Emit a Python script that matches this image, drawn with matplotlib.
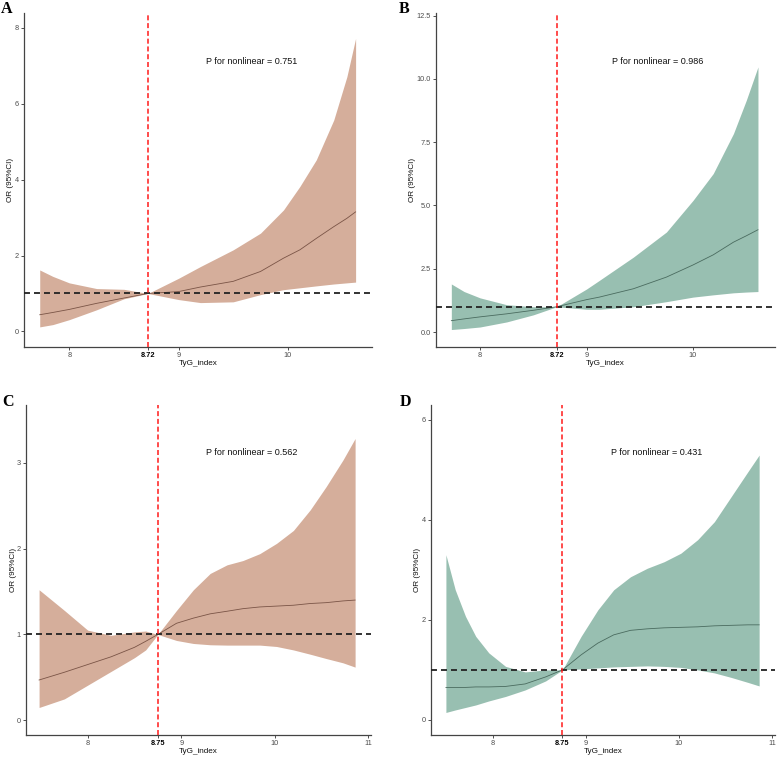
import matplotlib
matplotlib.use("Agg")
import matplotlib.pyplot as plt

# ---- data ------------------------------------------------------------------
# panel A (cut-off 8.72)
X_A = [7.73, 7.85, 8.0, 8.25, 8.5, 8.72, 9.0, 9.2, 9.5, 9.75, 9.96, 10.11, 10.26, 10.42, 10.54, 10.62]
A_OR = [0.44, 0.50, 0.58, 0.74, 0.88, 1.0, 1.05, 1.17, 1.32, 1.58, 1.93, 2.15, 2.45, 2.76, 2.98, 3.15]
A_UP = [1.62, 1.45, 1.28, 1.13, 1.11, 1.0, 1.40, 1.71, 2.15, 2.59, 3.20, 3.82, 4.52, 5.57, 6.71, 7.72]
A_LO = [0.12, 0.18, 0.31, 0.57, 0.86, 1.0, 0.84, 0.76, 0.78, 0.97, 1.10, 1.15, 1.20, 1.25, 1.28, 1.30]

# panel B (cut-off 8.72)
X_B = [7.73, 7.85, 8.0, 8.25, 8.5, 8.72, 9.0, 9.12, 9.44, 9.75, 10.0, 10.19, 10.38, 10.5, 10.61]
B_OR = [0.45, 0.52, 0.60, 0.72, 0.86, 1.0, 1.28, 1.38, 1.71, 2.17, 2.65, 3.05, 3.55, 3.80, 4.04]
B_UP = [1.90, 1.60, 1.35, 1.08, 1.00, 1.0, 1.70, 2.04, 2.96, 3.95, 5.20, 6.26, 7.84, 9.15, 10.47]
B_LO = [0.10, 0.14, 0.20, 0.40, 0.68, 1.0, 0.90, 0.90, 1.00, 1.20, 1.38, 1.47, 1.55, 1.58, 1.60]

# panel C (cut-off 8.75)
X_C = [7.48, 7.75, 8.0, 8.25, 8.5, 8.62, 8.75, 8.95, 9.13, 9.31, 9.49, 9.66, 9.84, 10.02,
       10.2, 10.38, 10.55, 10.73, 10.86]
C_OR = [0.47, 0.56, 0.65, 0.74, 0.85, 0.92, 1.0, 1.13, 1.19, 1.24, 1.27, 1.30, 1.32, 1.33,
        1.34, 1.36, 1.37, 1.39, 1.40]
C_UP = [1.52, 1.28, 1.05, 0.99, 1.03, 1.04, 1.0, 1.28, 1.52, 1.71, 1.81, 1.86, 1.94, 2.06,
        2.21, 2.45, 2.72, 3.03, 3.28]
C_LO = [0.15, 0.25, 0.41, 0.57, 0.73, 0.82, 1.0, 0.93, 0.895, 0.88, 0.876, 0.876, 0.876, 0.86,
        0.82, 0.77, 0.72, 0.67, 0.62]

# panel D (cut-off 8.75)
X_D = [7.5, 7.6, 7.71, 7.82, 7.96, 8.14, 8.35, 8.57, 8.75, 8.95, 9.13, 9.3, 9.48, 9.66, 9.84,
       10.02, 10.2, 10.38, 10.56, 10.74, 10.86]
D_OR = [0.65, 0.65, 0.65, 0.66, 0.66, 0.67, 0.72, 0.86, 1.0, 1.30, 1.535, 1.70, 1.79, 1.82, 1.84,
        1.85, 1.86, 1.88, 1.89, 1.90, 1.90]
D_UP = [3.30, 2.60, 2.07, 1.67, 1.34, 1.07, 0.96, 1.00, 1.0, 1.67, 2.20, 2.60, 2.86, 3.03, 3.16,
        3.33, 3.60, 3.96, 4.46, 4.96, 5.29]
D_LO = [0.15, 0.20, 0.25, 0.30, 0.38, 0.47, 0.60, 0.78, 1.0, 1.02, 1.04, 1.06, 1.07, 1.08, 1.07,
        1.05, 1.00, 0.94, 0.85, 0.75, 0.68]

LETTERS = ["A", "B", "C", "D"]
CUTS = [8.72, 8.72, 8.75, 8.75]
P_TEXT = ["P for nonlinear = 0.751", "P for nonlinear = 0.986",
          "P for nonlinear = 0.562", "P for nonlinear = 0.431"]
Y_TICKS = [[0, 2, 4, 6, 8], [0, 2.5, 5, 7.5, 10, 12.5], [0, 1, 2, 3], [0, 2, 4, 6]]
Y_TICKLABELS = [["0", "2", "4", "6", "8"],
                ["0.0", "2.5", "5.0", "7.5", "10.0", "12.5"],
                ["0", "1", "2", "3"], ["0", "2", "4", "6"]]
X_TICKS_AB = [8, 9, 10]
X_TICKS_CD = [8, 9, 10, 11]

# ---- styling ---------------------------------------------------------------
W, H, DPI = 777, 758, 100
BROWN_FILL, BROWN_LINE = "#d5ae9b", "#7a5446"
GREEN_FILL, GREEN_LINE = "#98bfb1", "#4a6b5f"
TICK_GREY = "#4d4d4d"

plt.rcParams["font.family"] = ["Liberation Sans", "DejaVu Sans"]
plt.rcParams["lines.scale_dashes"] = False

# axes boxes in pixels: left, right, top, bottom
BOXES = [(24, 372, 13, 347), (436, 775, 13, 347),
         (26, 371, 405, 735), (431, 775, 405, 735)]
XLIMS = [(7.586, 10.77), (7.586, 10.77), (7.34, 11.03), (7.34, 11.03)]
YLIMS = [(-0.41, 8.39), (-0.59, 12.6), (-0.17, 3.67), (-0.30, 6.29)]
YLAB_X = [-0.040, -0.068, -0.037, -0.038]
LETTER_POS = [(1, 13), (399, 13), (2, 406), (400, 406)]

panels = [
    (X_A, A_OR, A_UP, A_LO, BROWN_FILL, BROWN_LINE, X_TICKS_AB),
    (X_B, B_OR, B_UP, B_LO, GREEN_FILL, GREEN_LINE, X_TICKS_AB),
    (X_C, C_OR, C_UP, C_LO, BROWN_FILL, BROWN_LINE, X_TICKS_CD),
    (X_D, D_OR, D_UP, D_LO, GREEN_FILL, GREEN_LINE, X_TICKS_CD),
]

fig = plt.figure(figsize=(W / DPI, H / DPI), dpi=DPI)
fig.patch.set_facecolor("white")

for i, (x, y, up, lo, fill, line, xt) in enumerate(panels):
    l, r, t, b = BOXES[i]
    ax = fig.add_axes([l / W, (H - b) / H, (r - l) / W, (b - t) / H])

    ax.fill_between(x, lo, up, color=fill, linewidth=0, zorder=1)
    ax.plot(x, y, color=line, linewidth=0.6, zorder=2)
    ax.axhline(1, color="#222222", linewidth=1.3, dashes=(4.3, 2.9), zorder=3)
    ax.axvline(CUTS[i], color="#ff1a1a", linewidth=1.1, dashes=(3.6, 2.0), zorder=4)

    ax.set_xlim(*XLIMS[i])
    ax.set_ylim(*YLIMS[i])

    ticks = sorted(xt + [CUTS[i]])
    ax.set_xticks(ticks)
    ax.set_xticklabels([f"{v:g}" for v in ticks])
    ax.set_yticks(Y_TICKS[i])
    ax.set_yticklabels(Y_TICKLABELS[i])

    ax.tick_params(axis="both", labelsize=5.3, labelcolor=TICK_GREY,
                   color="#333333", length=2.2, width=0.6, pad=1.5)
    # the cut-off value is printed bold and black
    for lab, v in zip(ax.get_xticklabels(), ticks):
        if v == CUTS[i]:
            lab.set_fontweight("bold")
            lab.set_color("black")

    for side in ("top", "right"):
        ax.spines[side].set_visible(False)
    for side in ("left", "bottom"):
        ax.spines[side].set_color("#444444")
        ax.spines[side].set_linewidth(0.9)

    ax.set_xlabel("TyG_index", fontsize=5.9, color="#111111", va="center")
    ax.xaxis.set_label_coords(0.5, -0.049)
    ax.set_ylabel("OR (95%CI)", fontsize=5.9, color="#111111", va="center")
    ax.yaxis.set_label_coords(YLAB_X[i], 0.5)

    ax.text(0.655, 0.855, P_TEXT[i], transform=ax.transAxes,
            ha="center", va="center", fontsize=6.5, color="#111111")

    lx, ly = LETTER_POS[i]
    fig.text(lx / W, (H - ly) / H, LETTERS[i], ha="left", va="baseline",
             fontsize=11.5, fontweight="bold",
             family=["Liberation Serif", "DejaVu Serif"])

fig.savefig("out.png", dpi=DPI, facecolor="white")
